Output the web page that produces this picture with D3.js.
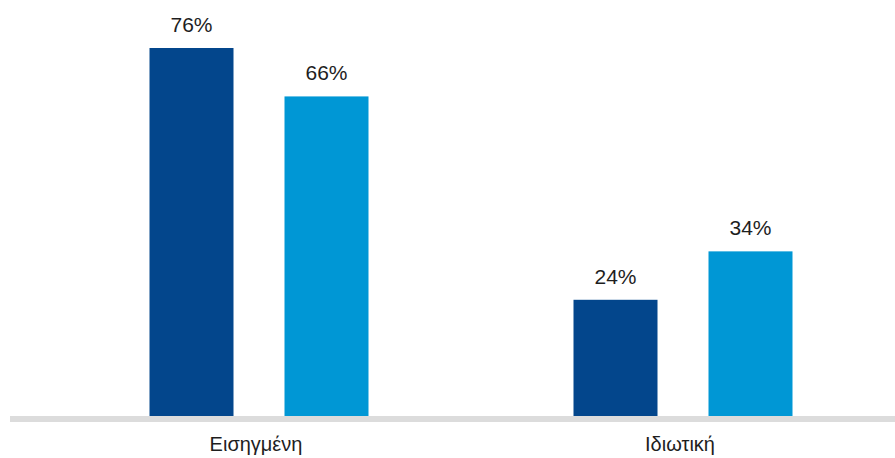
<!DOCTYPE html>
<html>
<head>
<meta charset="utf-8">
<script src="https://cdn.jsdelivr.net/npm/d3@7"></script>
<style>
  html, body { margin: 0; padding: 0; background: #ffffff; }
  svg { display: block; }
  text { font-family: "Liberation Sans", Arial, Helvetica, sans-serif; fill: #1e1e1e; }
</style>
</head>
<body>
<svg id="chart" width="895" height="458"></svg>
<script>
const categories = ["Εισηγμένη", "Ιδιωτική"];
const seriesNames = ["Σειρά 1", "Σειρά 2"];
const series1 = [76, 24];
const series2 = [66, 34];
const colors = ["#03468c", "#0097d5"];

const svg = d3.select("#chart");
const W = 895, H = 458;
const baseY = 416;

const x0 = d3.scaleBand().domain(categories).range([47, 895]).padding(0);
const x1 = d3.scaleBand().domain(seriesNames).range([77, 347]).paddingInner(0.3778).paddingOuter(0.1889);
const y = d3.scaleLinear().domain([0, 76]).range([baseY, 48]);

const data = categories.map((c, i) => ({
  category: c,
  values: [
    { key: seriesNames[0], value: series1[i], color: colors[0] },
    { key: seriesNames[1], value: series2[i], color: colors[1] }
  ]
}));

const groups = svg.selectAll("g.group").data(data).join("g")
  .attr("class", "group")
  .attr("transform", d => `translate(${x0(d.category)},0)`);

groups.selectAll("rect").data(d => d.values).join("rect")
  .attr("x", d => x1(d.key))
  .attr("y", d => y(d.value))
  .attr("width", x1.bandwidth())
  .attr("height", d => y(0) - y(d.value))
  .attr("fill", d => d.color);

groups.selectAll("text.val").data(d => d.values).join("text")
  .attr("class", "val")
  .attr("x", d => x1(d.key) + x1.bandwidth() / 2)
  .attr("y", d => y(d.value) - 16)
  .attr("text-anchor", "middle")
  .attr("font-size", 21)
  .text(d => d.value + "%");

// baseline
svg.append("rect")
  .attr("x", 10).attr("y", baseY)
  .attr("width", W - 10).attr("height", 6)
  .attr("fill", "#dcdcdc");

// category axis labels
const xAxis = d3.axisBottom(x0).tickSize(0).tickPadding(0);
const ax = svg.append("g").attr("transform", `translate(-3,${baseY + 20})`).call(xAxis);
ax.select(".domain").remove();
ax.selectAll("text")
  .attr("font-size", 20)
  .attr("dy", "0.76em")
  .style("font-family", "\"Liberation Sans\", Arial, sans-serif")
  .attr("fill", "#1e1e1e");
</script>
</body>
</html>
